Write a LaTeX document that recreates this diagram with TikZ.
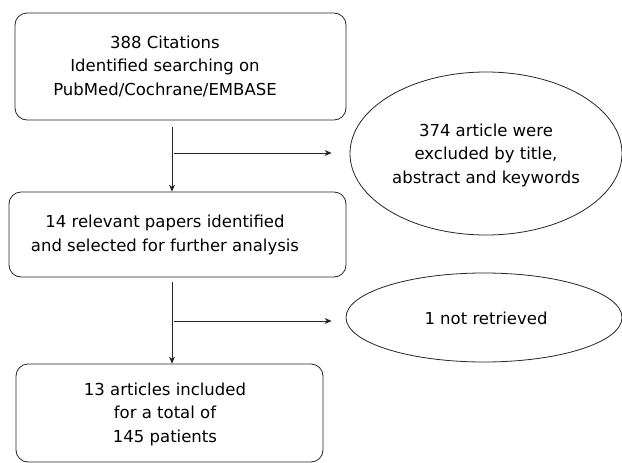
\documentclass[tikz,border=0pt]{standalone}
\usepackage{fontspec}
\setmainfont{DejaVu Sans}
\usetikzlibrary{shapes.geometric,arrows.meta}
\begin{document}
\begin{tikzpicture}[x=1pt,y=-1pt,
  line width=0.8pt,
  box/.style={draw=black!85, rounded corners=12pt, inner sep=0pt},
  oval/.style={draw=black!85, ellipse, inner sep=0pt},
  txt/.style={align=center, inner sep=0pt, font=\fontsize{16.5}{23.5}\selectfont},
  arr/.style={draw=black!85, -{Stealth[length=7pt,width=6pt]}}]
\useasboundingbox (0,0) rectangle (622,463);
% boxes
\node[box, minimum width=331pt, minimum height=107pt] (b1) at (180.5,66.5) {};
\node[box, minimum width=337pt, minimum height=85pt] (b2) at (177.5,234.5) {};
\node[box, minimum width=307pt, minimum height=98pt] (b3) at (169.5,413) {};
% ellipses
\node[oval, minimum width=272pt, minimum height=163pt] (e1) at (486,153.5) {};
\node[oval, minimum width=276pt, minimum height=89pt] (e2) at (484,317.5) {};
% texts
\node[txt] (t1) at (165,66) {388 Citations\\Identified searching on\\PubMed/Cochrane/EMBASE};
\node[txt] (t2) at (165,235) {14 relevant papers identified\\and selected for further analysis};
\node[txt] (t3) at (165,414) {13 articles included\\for a total of\\145 patients};
\node[txt] (t4) at (486,155) {374 article were\\excluded by title,\\abstract and keywords};
\node[txt] (t5) at (486,318) {1 not retrieved};
% connectors
\coordinate (v1) at (172,0);
\coordinate (h1) at (174,153);
\coordinate (h2) at (174,321);
\draw[arr] ([yshift=-7pt]b1.south -| v1) -- (b2.north -| v1);
\draw[arr] ([yshift=-5pt]b2.south -| v1) -- (b3.north -| v1);
\draw[arr] (h1) -- ([xshift=-18pt]e1.west |- h1);
\draw[arr] (h2) -- ([xshift=-14pt]e2.west |- h2);
\end{tikzpicture}
\end{document}
